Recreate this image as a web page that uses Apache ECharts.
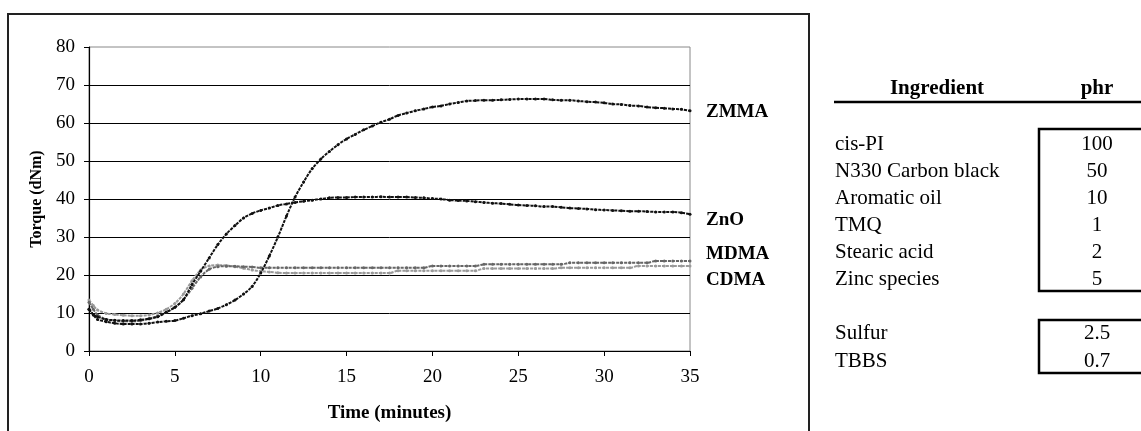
<!DOCTYPE html>
<html>
<head>
<meta charset="utf-8">
<script src="https://cdn.jsdelivr.net/npm/echarts@6/dist/echarts.min.js"></script>
<style>
html,body{margin:0;padding:0;background:#fff;}
#chart{width:1141px;height:431px;}
</style>
</head>
<body>
<div id="chart"></div>
<script>
// ---- data ----
const time = [0,0.25,0.5,1,1.5,2,2.5,3,3.5,4,4.5,5,5.5,6,6.5,7,7.5,8,8.5,9,9.5,10,10.5,11,11.5,12,12.5,13,13.5,14,14.5,15,15.5,16,16.5,17,17.5,18,18.5,19,19.5,20,20.5,21,21.5,22,22.5,23,23.5,24,24.5,25,25.5,26,26.5,27,27.5,28,28.5,29,29.5,30,30.5,31,31.5,32,32.5,33,33.5,34,34.5,35];
const zmma = [11,9.5,8.3,7.7,7.3,7.1,7.1,7.1,7.3,7.6,7.8,8,8.6,9.3,9.8,10.5,11.2,12.2,13.4,15,17,20.5,25,30,35.5,40.5,44.5,48,50.5,52.5,54.3,55.8,57,58.2,59.2,60.2,61,62,62.6,63.2,63.7,64.2,64.5,65,65.4,65.8,65.9,66,66,66.1,66.2,66.3,66.3,66.3,66.3,66.1,66,66,65.8,65.6,65.5,65.3,65,64.9,64.6,64.5,64.2,64,63.9,63.7,63.6,63.2];
const zno = [11,9.6,9,8.3,8.1,8,8,8.2,8.5,9,10.2,11.5,13.5,17.5,21,24.5,28,30.8,33,35,36.2,37,37.6,38.3,38.7,39.1,39.4,39.7,40,40.3,40.4,40.4,40.5,40.5,40.5,40.6,40.5,40.5,40.5,40.4,40.3,40.1,40,39.7,39.6,39.5,39.3,39.1,38.9,38.8,38.6,38.4,38.3,38.2,38,38,37.8,37.6,37.5,37.4,37.2,37.1,37,36.9,36.8,36.8,36.7,36.6,36.6,36.6,36.4,36];
const mdma = [12.8,11,9.5,8.3,8,7.8,7.8,8,8.5,9.2,10.2,11.5,13.5,16.5,19.5,21.5,22.2,22.3,22.3,22.2,22.1,21.9,21.9,21.9,21.9,21.9,21.9,21.9,21.9,21.9,21.9,21.9,21.9,21.9,21.9,21.9,21.9,21.9,21.9,21.9,21.9,22.4,22.4,22.4,22.4,22.4,22.4,22.8,22.8,22.8,22.8,22.8,22.8,22.8,22.8,22.8,22.8,23.2,23.2,23.2,23.2,23.2,23.2,23.2,23.2,23.2,23.2,23.7,23.7,23.7,23.7,23.7];
const cdma = [13.4,12,10.8,9.9,9.6,9.4,9.3,9.3,9.5,10,11,12.5,15,18.5,21.3,22.4,22.6,22.5,22.2,21.8,21.3,21,20.8,20.6,20.5,20.5,20.5,20.5,20.5,20.5,20.5,20.5,20.5,20.5,20.5,20.5,20.5,21.1,21.1,21.1,21.1,21.1,21.1,21.1,21.1,21.1,21.1,21.7,21.7,21.7,21.7,21.7,21.7,21.7,21.7,21.7,21.9,21.9,21.9,21.9,21.9,21.9,21.9,21.9,21.9,22.4,22.4,22.4,22.4,22.4,22.4,22.4];
const seriesNames = ['ZMMA','ZnO','MDMA','CDMA'];
const xTicks = [0,5,10,15,20,25,30,35];
const yTicks = [0,10,20,30,40,50,60,70,80];
const ingredients = ['cis-PI','N330 Carbon black','Aromatic oil','TMQ','Stearic acid','Zinc species'];
const ingredientPhr = ['100','50','10','1','2','5'];
const curatives = ['Sulfur','TBBS'];
const curativePhr = ['2.5','0.7'];
const tableHeader = ['Ingredient','phr'];
const axisTitles = ['Time (minutes)','Torque (dNm)'];

// ---- chart ----
const FONT = '"Liberation Serif","Times New Roman",serif';
const chart = echarts.init(document.getElementById('chart'), null, {renderer:'canvas'});

function pairs(arr){ return time.map((t,i)=>[t,arr[i]]); }
const styles = [
  {color:'#111', off:[8,1]},
  {color:'#111', off:[8,6]},
  {color:'#666', off:[8,-7]},
  {color:'#9a9a9a', off:[8,14]}
];
const seriesData = [zmma,zno,mdma,cdma];

const series = seriesData.map((d,i)=>({
  name: seriesNames[i],
  type:'line',
  data: pairs(d),
  smooth: 0.3,
  showSymbol: true,
  symbol:'circle',
  symbolSize: 3,
  itemStyle:{color: styles[i].color},
  lineStyle:{color: styles[i].color, width:2, type:[3,1]},
  z: 10 - i,
  endLabel:{
    show:true,
    formatter:'{a}',
    color:'#000',
    fontFamily:FONT,
    fontWeight:'bold',
    fontSize:19,
    offset: styles[i].off
  }
}));

// table and frame graphics
const g = [];
g.push({type:'rect', shape:{x:8,y:14,width:801,height:440}, style:{fill:'none', stroke:'#222', lineWidth:2}, z:0});
g.push({type:'text', x:937, y:89, style:{text:tableHeader[0], font:'bold 21px '+FONT, fill:'#000', textAlign:'center', textVerticalAlign:'middle'}});
g.push({type:'text', x:1097, y:89, style:{text:tableHeader[1], font:'bold 21px '+FONT, fill:'#000', textAlign:'center', textVerticalAlign:'middle'}});
g.push({type:'line', shape:{x1:834,y1:102,x2:1141,y2:102}, style:{stroke:'#000', lineWidth:2.5}});
ingredients.forEach((s,i)=>{
  const y = 144 + i*27;
  g.push({type:'text', x:835, y:y, style:{text:s, font:'21px '+FONT, fill:'#000', textAlign:'left', textVerticalAlign:'middle'}});
  g.push({type:'text', x:1097, y:y, style:{text:ingredientPhr[i], font:'21px '+FONT, fill:'#000', textAlign:'center', textVerticalAlign:'middle'}});
});
curatives.forEach((s,i)=>{
  const y = 333 + i*28;
  g.push({type:'text', x:835, y:y, style:{text:s, font:'21px '+FONT, fill:'#000', textAlign:'left', textVerticalAlign:'middle'}});
  g.push({type:'text', x:1097, y:y, style:{text:curativePhr[i], font:'21px '+FONT, fill:'#000', textAlign:'center', textVerticalAlign:'middle'}});
});
g.push({type:'rect', shape:{x:1039,y:129,width:110,height:162}, style:{fill:'none', stroke:'#000', lineWidth:2.5}});
g.push({type:'rect', shape:{x:1039,y:320,width:110,height:53}, style:{fill:'none', stroke:'#000', lineWidth:2.5}});

chart.setOption({
  animation:false,
  backgroundColor:'#fff',
  grid:{left:89, right:451, top:47, bottom:80, show:true, borderColor:'#888', borderWidth:1, containLabel:false},
  xAxis:{
    type:'value', min:xTicks[0], max:xTicks[xTicks.length-1], interval:5,
    name:axisTitles[0], nameLocation:'middle', nameGap:53,
    nameTextStyle:{fontFamily:FONT, fontWeight:'bold', fontSize:19, color:'#000'},
    axisLine:{show:true, onZero:false, lineStyle:{color:'#000', width:1.2}},
    axisTick:{show:true, inside:false, length:5, lineStyle:{color:'#000'}},
    axisLabel:{fontFamily:FONT, fontSize:19, color:'#000', margin:17},
    splitLine:{show:false}
  },
  yAxis:{
    type:'value', min:yTicks[0], max:yTicks[yTicks.length-1], interval:10,
    name:axisTitles[1], nameLocation:'middle', nameGap:40,
    nameTextStyle:{fontFamily:FONT, fontWeight:'bold', fontSize:16, color:'#000'},
    axisLine:{show:true, lineStyle:{color:'#000', width:1.2}},
    axisTick:{show:true, inside:false, length:5, lineStyle:{color:'#000'}},
    axisLabel:{fontFamily:FONT, fontSize:19, color:'#000', margin:14},
    splitLine:{show:true, showMinLine:false, showMaxLine:false, lineStyle:{color:'#000', width:1}}
  },
  series: series,
  graphic: g
});
</script>
</body>
</html>
